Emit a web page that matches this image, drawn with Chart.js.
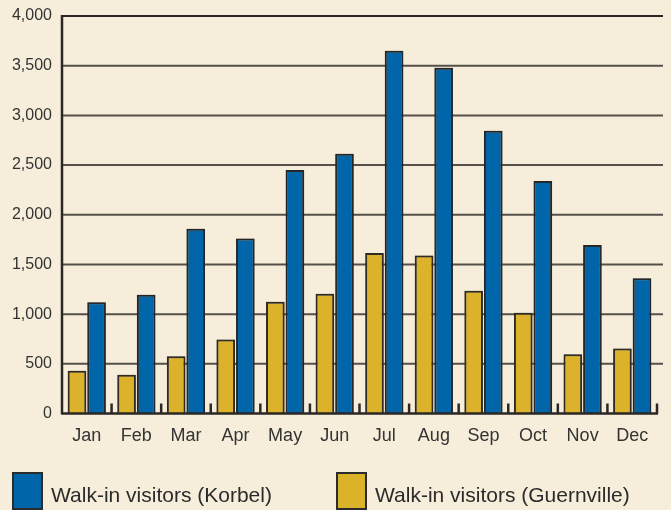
<!DOCTYPE html>
<html><head><meta charset="utf-8">
<script src="https://cdn.jsdelivr.net/npm/chart.js@4/dist/chart.umd.min.js"></script>
<style>
html,body{margin:0;padding:0;background:#f6eedb;width:671px;height:510px;overflow:hidden;}
#c{display:block;}
</style></head>
<body><canvas id="c" width="671" height="510"></canvas>
<script>
const months = ['Jan','Feb','Mar','Apr','May','Jun','Jul','Aug','Sep','Oct','Nov','Dec'];
const korbel = [1120,1195,1860,1760,2450,2615,3650,3480,2845,2340,1695,1360];
const guernville = [430,390,575,745,1125,1205,1615,1590,1235,1015,596,653];
const yTicks = [0,500,1000,1500,2000,2500,3000,3500,4000];
const seriesLabels = ['Walk-in visitors (Korbel)','Walk-in visitors (Guernville)'];
const blue = '#0066a9', gold = '#dcb22a';
const FONT = '"Liberation Sans", Arial, sans-serif';

const decor = {
  id: 'decor',
  beforeDatasetsDraw(chart) {
    const {ctx, chartArea: a, scales: {y}} = chart;
    ctx.save();
    yTicks.forEach(v => {
      if (v === 0) return;
      const py = y.getPixelForValue(v);
      ctx.beginPath();
      ctx.strokeStyle = v === 4000 ? '#2a2724' : '#55514a';
      ctx.lineWidth = 2;
      ctx.moveTo(a.left, py);
      ctx.lineTo(a.right + 6, py);
      ctx.stroke();
    });
    ctx.restore();
  },
  beforeDatasetDraw(chart) {
    const ctx = chart.ctx;
    ctx.save();
    ctx.shadowColor = 'rgba(70,60,45,0.5)';
    ctx.shadowBlur = 2;
  },
  afterDatasetDraw(chart) {
    chart.ctx.restore();
  },
  afterDatasetsDraw(chart) {
    const {ctx, chartArea: a, scales: {x, y}} = chart;
    const y0 = y.getPixelForValue(0);
    ctx.save();
    ctx.strokeStyle = '#2a2724';
    ctx.lineWidth = 2.5;
    ctx.beginPath();
    ctx.moveTo(a.left, a.top - 1);
    ctx.lineTo(a.left, y0 + 1);
    ctx.stroke();
    ctx.beginPath();
    ctx.moveTo(a.left, y0);
    ctx.lineTo(a.right + 1, y0);
    ctx.stroke();
    const half = (x.getPixelForValue(1) - x.getPixelForValue(0)) / 2;
    for (let i = 0; i < months.length; i++) {
      const px = x.getPixelForValue(i) + half;
      ctx.beginPath();
      ctx.moveTo(px, y0);
      ctx.lineTo(px, y0 - 10);
      ctx.stroke();
    }
    ctx.restore();
  },
  afterDraw(chart) {
    // legend drawn from the chart's datasets, Korbel first
    const ctx = chart.ctx;
    const order = [1, 0];
    const boxLeft = [12, 336];
    ctx.save();
    order.forEach((di, k) => {
      const ds = chart.data.datasets[di];
      const bx = boxLeft[k];
      ctx.fillStyle = ds.backgroundColor;
      ctx.fillRect(bx, 472, 31, 40);
      ctx.strokeStyle = '#2b2b2b';
      ctx.lineWidth = 2;
      ctx.strokeRect(bx + 1, 473, 29, 36);
      ctx.fillStyle = '#2b2b2b';
      ctx.font = '21px ' + FONT;
      ctx.textBaseline = 'alphabetic';
      ctx.textAlign = 'left';
      ctx.fillText(ds.label, bx + 39, 502);
    });
    ctx.restore();
  }
};

const chart = new Chart(document.getElementById('c'), {
  type: 'bar',
  data: {
    labels: months,
    datasets: [
      {label: seriesLabels[1], data: guernville, backgroundColor: gold, borderColor: '#2e2a24', borderWidth: 2},
      {label: seriesLabels[0], data: korbel, backgroundColor: blue, borderColor: '#22262a', borderWidth: 2}
    ]
  },
  options: {
    responsive: false,
    animation: false,
    events: [],
    datasets: {bar: {barPercentage: 0.95, categoryPercentage: 0.79}},
    layout: {padding: {top: 16, right: 14, left: 0, bottom: 0}},
    plugins: {legend: {display: false}, tooltip: {enabled: false}},
    scales: {
      x: {
        grid: {display: false, drawTicks: false},
        border: {display: false},
        ticks: {color: '#333', font: {size: 18, family: FONT}, padding: 12, maxRotation: 0},
        afterFit(s) { s.height = 96.5; s.paddingLeft = 0; s.paddingRight = 0; }
      },
      y: {
        min: 0, max: 4000,
        afterBuildTicks(s) { s.ticks = yTicks.map(v => ({value: v})); },
        grid: {display: false, drawTicks: false},
        border: {display: false},
        ticks: {color: '#333', font: {size: 16, family: FONT}, padding: 10,
                callback: v => v.toLocaleString('en-US')},
        afterFit(s) { s.width = 62; s.paddingTop = 0; s.paddingBottom = 0; }
      }
    }
  },
  plugins: [decor]
});
</script>
</body></html>
